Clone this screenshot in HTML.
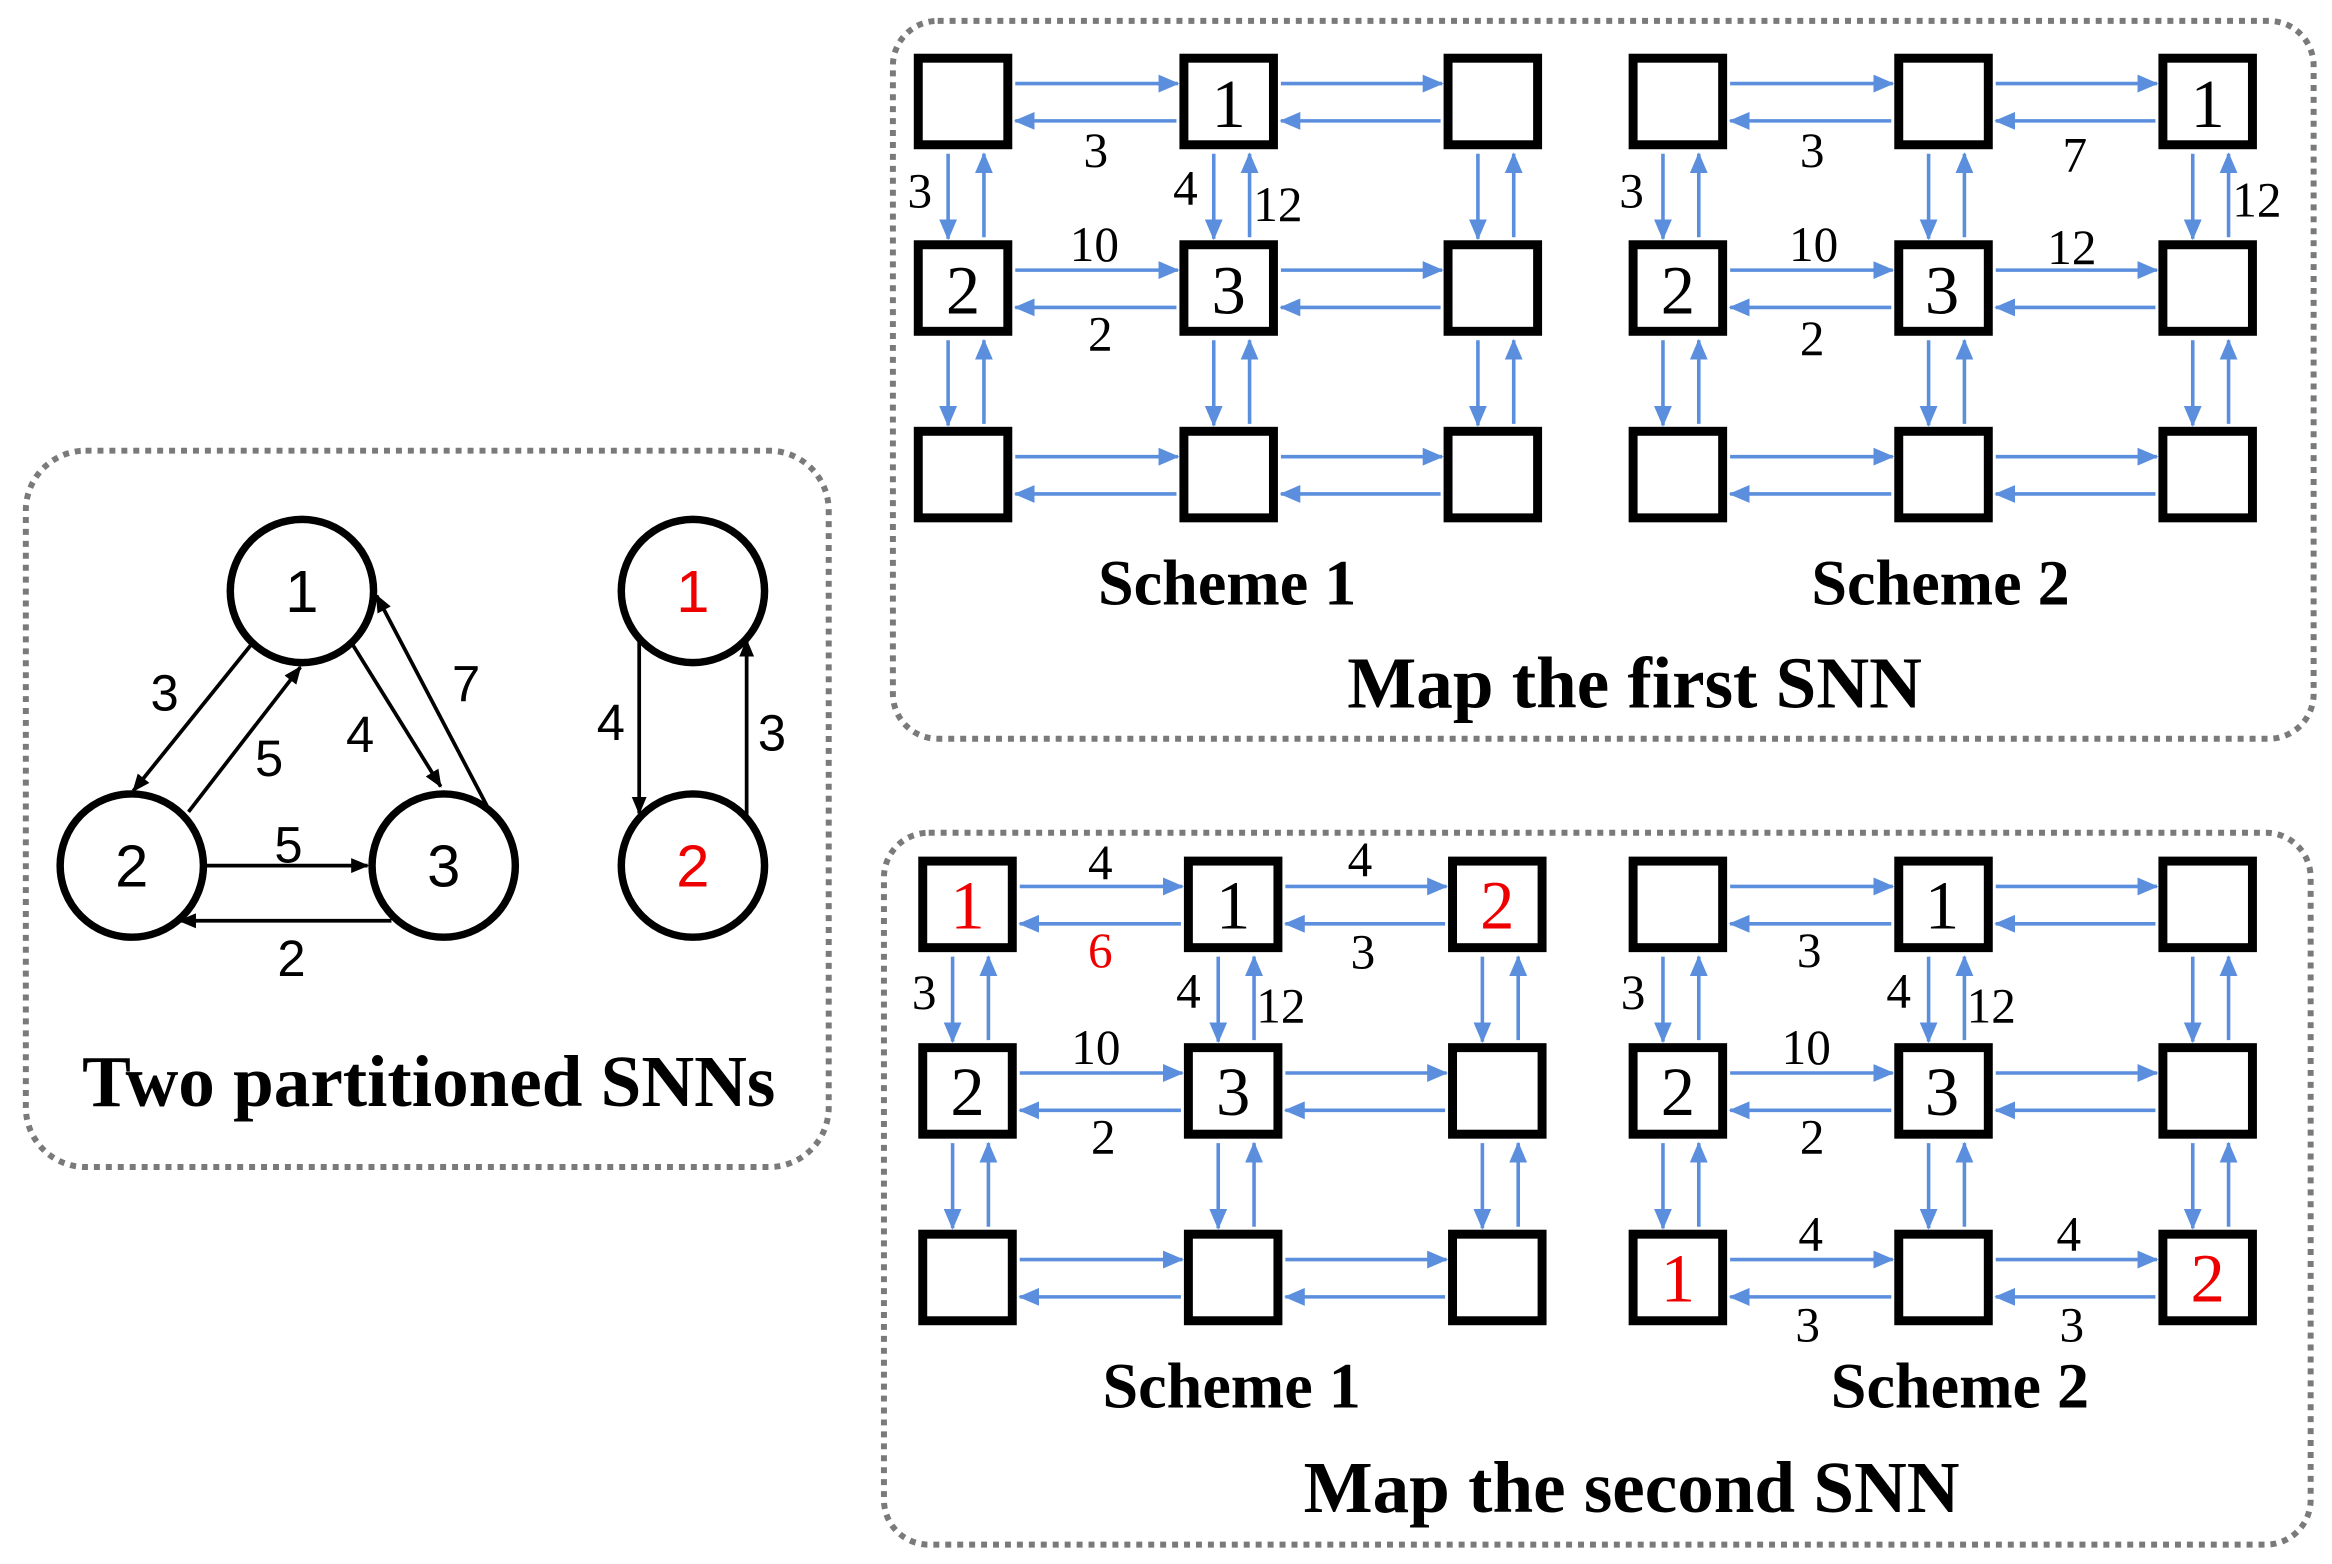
<!DOCTYPE html>
<html><head><meta charset="utf-8"><style>
html,body{margin:0;padding:0;background:#fff}
svg{display:block}
.s{font-family:"Liberation Serif",serif}
.a{font-family:"Liberation Sans",sans-serif}
</style></head><body>
<svg width="2332" height="1564" viewBox="0 0 1562 1048" xmlns="http://www.w3.org/2000/svg">
<defs>
<marker id="bh" markerUnits="userSpaceOnUse" markerWidth="14" markerHeight="12" refX="13" refY="6" orient="auto"><path d="M0,0 L14,6 L0,12 Z" fill="#5b8fde"/></marker>
<marker id="kh" markerUnits="userSpaceOnUse" markerWidth="12" markerHeight="10" refX="11" refY="5" orient="auto"><path d="M0,0 L12,5 L0,10 Z" fill="#000"/></marker>
<g id="grid">
<g fill="none" stroke="#000" stroke-width="6">
<rect x="3" y="3" width="60" height="58"/><rect x="181" y="3" width="60" height="58"/><rect x="358" y="3" width="60" height="58"/>
<rect x="3" y="128" width="60" height="58"/><rect x="181" y="128" width="60" height="58"/><rect x="358" y="128" width="60" height="58"/>
<rect x="3" y="253" width="60" height="58"/><rect x="181" y="253" width="60" height="58"/><rect x="358" y="253" width="60" height="58"/>
</g>
<g stroke="#5b8fde" stroke-width="2.4" marker-end="url(#bh)">
<line x1="68" y1="20" x2="177" y2="20"/><line x1="176" y1="45" x2="68" y2="45"/>
<line x1="246" y1="20" x2="354" y2="20"/><line x1="353" y1="45" x2="246" y2="45"/>
<line x1="68" y1="145" x2="177" y2="145"/><line x1="176" y1="170" x2="68" y2="170"/>
<line x1="246" y1="145" x2="354" y2="145"/><line x1="353" y1="170" x2="246" y2="170"/>
<line x1="68" y1="270" x2="177" y2="270"/><line x1="176" y1="295" x2="68" y2="295"/>
<line x1="246" y1="270" x2="354" y2="270"/><line x1="353" y1="295" x2="246" y2="295"/>
<line x1="23" y1="67" x2="23" y2="124"/><line x1="47" y1="123" x2="47" y2="67"/>
<line x1="201" y1="67" x2="201" y2="124"/><line x1="225" y1="123" x2="225" y2="67"/>
<line x1="378" y1="67" x2="378" y2="124"/><line x1="402" y1="123" x2="402" y2="67"/>
<line x1="23" y1="192" x2="23" y2="249"/><line x1="47" y1="248" x2="47" y2="192"/>
<line x1="201" y1="192" x2="201" y2="249"/><line x1="225" y1="248" x2="225" y2="192"/>
<line x1="378" y1="192" x2="378" y2="249"/><line x1="402" y1="248" x2="402" y2="192"/>
</g>
</g>
</defs>

<g fill="none" stroke="#7a7a7a" stroke-width="4" stroke-dasharray="4,4">
<rect x="17" y="302" width="538" height="480" rx="40"/>
<rect x="598" y="14" width="952" height="481" rx="30"/>
<rect x="592" y="558" width="956" height="477" rx="30"/>
</g>

<g fill="#fff" stroke="#000" stroke-width="5">
<circle cx="202" cy="396" r="48"/><circle cx="88" cy="580" r="48"/><circle cx="297" cy="580" r="48"/>
<circle cx="464" cy="396" r="48"/><circle cx="464" cy="580" r="48"/>
</g>
<g stroke="#000" stroke-width="2.5" marker-end="url(#kh)">
<line x1="168" y1="432" x2="89" y2="530"/>
<line x1="126" y1="544" x2="201" y2="447"/>
<line x1="236" y1="432" x2="295" y2="527"/>
<line x1="326" y1="540" x2="252" y2="399"/>
<line x1="138" y1="580" x2="246" y2="580"/>
<line x1="262" y1="617" x2="120" y2="617"/>
<line x1="428" y1="428" x2="428" y2="545"/>
<line x1="500" y1="548" x2="500" y2="429"/>
</g>
<g class="a" font-size="34" text-anchor="middle">
<text x="202" y="410" font-size="40">1</text><text x="88" y="594" font-size="40">2</text><text x="297" y="594" font-size="40">3</text>
<text x="464" y="410" font-size="40" fill="#e00">1</text><text x="464" y="594" font-size="40" fill="#e00">2</text>
<text x="110" y="476">3</text><text x="180" y="520">5</text><text x="241" y="504">4</text><text x="312" y="470">7</text>
<text x="193" y="578">5</text><text x="195" y="654">2</text><text x="409" y="496">4</text><text x="517" y="503">3</text>
</g>
<text class="s" x="287" y="741" font-size="49" font-weight="bold" text-anchor="middle">Two partitioned SNNs</text>

<use href="#grid" x="612" y="36"/>
<use href="#grid" x="1091" y="36"/>
<use href="#grid" x="615" y="574"/>
<use href="#grid" x="1091" y="574"/>

<g class="s" text-anchor="middle">
<g font-size="46">
<text x="823" y="85">1</text><text x="645" y="210">2</text><text x="823" y="210">3</text>
<text x="1479" y="85">1</text><text x="1124" y="210">2</text><text x="1301" y="210">3</text>
<text x="648" y="622" fill="#e00">1</text><text x="826" y="622">1</text><text x="1003" y="622" fill="#e00">2</text>
<text x="648" y="747">2</text><text x="826" y="747">3</text>
<text x="1301" y="622">1</text><text x="1124" y="747">2</text><text x="1301" y="747">3</text>
<text x="1124" y="872" fill="#e00">1</text><text x="1479" y="872" fill="#e00">2</text>
</g>
<g font-size="33">
<text x="734" y="112">3</text><text x="616" y="139">3</text><text x="794" y="137">4</text><text x="856" y="148">12</text>
<text x="733" y="175">10</text><text x="737" y="235">2</text>
<text x="1214" y="112">3</text><text x="1390" y="115">7</text><text x="1093" y="139">3</text><text x="1512" y="145">12</text>
<text x="1215" y="175">10</text><text x="1388" y="177">12</text><text x="1214" y="238">2</text>
<text x="737" y="589">4</text><text x="911" y="587">4</text><text x="737" y="648" fill="#e00">6</text><text x="913" y="649">3</text>
<text x="619" y="676">3</text><text x="796" y="675">4</text><text x="858" y="685">12</text>
<text x="734" y="713">10</text><text x="739" y="773">2</text>
<text x="1212" y="648">3</text><text x="1094" y="676">3</text><text x="1272" y="675">4</text><text x="1334" y="685">12</text>
<text x="1210" y="713">10</text><text x="1214" y="773">2</text>
<text x="1213" y="838">4</text><text x="1386" y="838">4</text><text x="1211" y="899">3</text><text x="1388" y="899">3</text>
</g>
<g font-size="43" font-weight="bold">
<text x="822" y="405">Scheme 1</text><text x="1300" y="405">Scheme 2</text>
<text x="825" y="943">Scheme 1</text><text x="1313" y="943">Scheme 2</text>
</g>
<g font-size="49" font-weight="bold">
<text x="1095" y="474">Map the first SNN</text>
<text x="1093" y="1013">Map the second SNN</text>
</g>
</g>
</svg>
</body></html>
